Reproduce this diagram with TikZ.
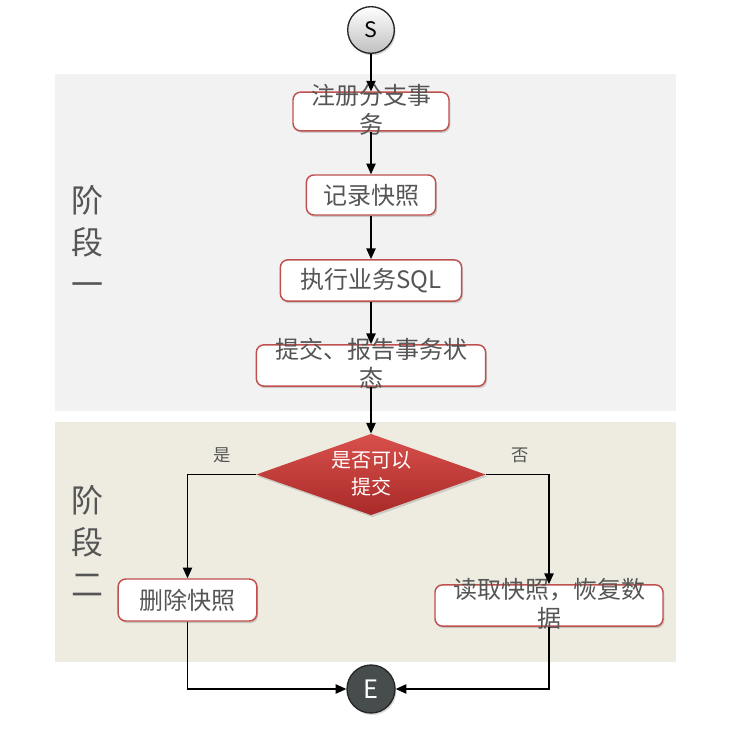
\documentclass[tikz,border=0pt]{standalone}
\usepackage{fontspec}
\newfontfamily\cjk{Noto Sans CJK SC}
\usetikzlibrary{shapes.geometric,shadows,arrows.meta}
\definecolor{boxred}{HTML}{C0504D}
\definecolor{txtgray}{HTML}{555555}
\definecolor{bandone}{HTML}{F2F2F2}
\definecolor{bandtwo}{HTML}{EEEBE0}
\definecolor{endgray}{HTML}{474D4D}
\definecolor{diatop}{HTML}{D9504C}
\definecolor{diabot}{HTML}{A82A28}
\newcommand{\ovtext}[1]{\smash{\raisebox{-.3em}{\begin{tabular}{@{}c@{}}#1\end{tabular}}}}
\tikzset{stepbox/.style={draw=boxred,line width=1.1pt,fill=white,rounded corners=2mm,font=\cjk\fontsize{18}{21}\selectfont,text=txtgray,inner sep=0pt,drop shadow={shadow xshift=1pt,shadow yshift=-1.5pt,opacity=.35}}}

\begin{document}
\begin{tikzpicture}[x=0.75pt,y=-0.75pt]
\tikzstyle{term}=[circle,draw=black!85,line width=1pt,minimum size=35pt,inner sep=0pt,font=\cjk\fontsize{16}{18}\selectfont,drop shadow={shadow xshift=1pt,shadow yshift=-1.5pt,opacity=.3}]
\tikzstyle{decide}=[diamond,minimum width=172pt,minimum height=61pt,inner sep=0pt,top color=diatop,bottom color=diabot,text=white,font=\cjk\fontsize{15}{20}\selectfont,drop shadow={shadow xshift=1pt,shadow yshift=-1.5pt,opacity=.3}]
\tikzstyle{arr}=[-{Triangle[length=8pt,width=7pt]},line width=1pt,black]
\tikzstyle{phase}=[align=center,inner sep=0pt,text=txtgray,font=\cjk\fontsize{24}{31.5}\selectfont]
\tikzstyle{yesno}=[inner sep=0pt,text=txtgray,font=\cjk\fontsize{13}{15}\selectfont]

   \useasboundingbox (0,0) rectangle (754,735);
   \fill[bandone] (55,74) rectangle (676,411);
   \fill[bandtwo] (55,422) rectangle (676,662);

   \path (371,30) node[term,top color=white,bottom color=black!25] (S) {S}
    (371,111.5) node[stepbox,minimum width=117pt,minimum height=29pt] (reg) {\ovtext{注册分支事\\务}}
    (371,195) node[stepbox,minimum width=97pt,minimum height=30pt] (snap) {记录快照}
    (371,280.5) node[stepbox,minimum width=136pt,minimum height=31pt] (sql) {执行业务SQL}
    (371,365.5) node[stepbox,minimum width=172pt,minimum height=31pt] (rep) {\ovtext{提交、报告事务状\\态}}
    (371,474.5) node[decide] (dia) {\ovtext{是否可以\\提交}}
    (187.5,600) node[stepbox,minimum width=104pt,minimum height=31.5pt] (del) {删除快照}
    (549,605.5) node[stepbox,minimum width=171pt,minimum height=31pt] (rest) {\ovtext{读取快照，恢复数\\据}}
    (371,689) node[term,fill=endgray,text=white,minimum size=36pt,font=\cjk\fontsize{19}{21}\selectfont] (E) {E};

   \node[phase] (one) at (87,241) {阶\\段\\一};
   \node[phase] (two) at (87,541) {阶\\段\\二};
   \node[yesno] (yes) at (222,455) {是};
   \node[yesno] (no) at (520,455) {否};

   \draw[arr] (S) -- (reg);
   \draw[arr] (reg) -- (snap);
   \draw[arr] (snap) -- (sql);
   \draw[arr] (sql) -- (rep);
   \draw[arr] (rep) -- (dia);
   \draw[arr] (dia.west) -| (del);
   \draw[arr] (dia.east) -| (rest);
   \draw[arr] (del) |- (E);
   \draw[arr] (rest) |- (E);
\end{tikzpicture}
\end{document}
